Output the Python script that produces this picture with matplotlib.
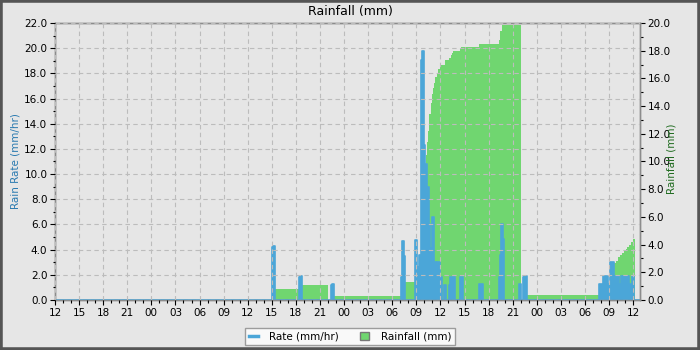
import numpy as np
import matplotlib
matplotlib.use('Agg')
import matplotlib.pyplot as plt
from matplotlib.lines import Line2D
from matplotlib.patches import Patch, Rectangle
from matplotlib.ticker import MultipleLocator, FuncFormatter

#----------- data (hours from day 1 12:00) -----------
# rainfall (mm), step series: value holds from time until next time
rain_t = [0.0, 27.40, 30.76, 34.00, 34.74, 43.34, 45.58, 46.20, 46.29, 46.41,
          46.54, 46.61, 46.79, 46.95, 47.11, 47.23, 47.36, 47.53, 47.70, 47.94,
          48.11, 48.57, 49.10, 49.28, 49.44, 49.60, 50.44, 50.56, 52.80, 55.29,
          55.42, 55.63, 57.99, 58.82, 69.12, 69.60, 69.89, 70.10, 70.30, 70.57,
          70.86, 71.07, 71.27, 71.52, 71.73, 71.94, 72.23, 72.85]
rain_v = [0.0, 0.8, 1.1, 0.0, 0.3, 1.3, 3.2, 10.5, 11.4, 12.2,
          12.8, 13.4, 14.2, 14.9, 15.3, 15.7, 16.1, 16.4, 16.7, 16.9,
          17.0, 17.3, 17.45, 17.7, 17.85, 18.0, 18.2, 18.3, 18.5, 18.8,
          19.4, 19.85, 0.0, 0.35, 1.0, 2.7, 2.85, 3.1, 3.25, 3.4,
          3.55, 3.7, 3.85, 4.0, 4.2, 4.4, 0.0, 0.0]

# rain rate (mm/hr)
rate_t = [0.0, 27.02, 27.19, 27.36, 30.39, 30.55, 30.76, 34.37, 34.53, 34.74,
          43.09, 43.21, 43.42, 43.59, 44.77, 44.89, 45.08, 45.24, 45.37, 45.58,
          45.74, 45.95, 46.08, 46.29, 46.57, 46.70, 46.99, 47.23, 47.50, 47.62,
          47.94, 48.22, 48.44, 48.69, 49.07, 49.23, 49.81, 50.44, 50.77, 52.80,
          53.26, 55.29, 55.42, 55.54, 55.75, 55.88, 57.78, 57.99, 58.27, 58.43,
          58.73, 67.75, 68.29, 68.83, 69.12, 69.61, 69.83, 70.03, 70.27, 70.45,
          70.70, 70.90, 71.11, 71.27, 71.48, 71.81, 72.14, 72.85]
rate_v = [0.0, 4.2, 4.3, 0.0, 1.8, 1.9, 0.0, 1.2, 1.3, 0.0,
          1.8, 4.7, 3.5, 0.0, 4.7, 4.8, 2.6, 0.8, 3.6, 19.1,
          19.8, 12.3, 10.8, 9.0, 6.0, 4.1, 6.6, 3.0, 2.4, 3.0,
          1.85, 0.0, 1.2, 0.0, 1.2, 1.85, 0.0, 1.85, 0.0, 1.25,
          0.0, 1.85, 3.6, 6.0, 4.85, 0.0, 1.25, 0.0, 1.85, 1.9,
          0.0, 1.27, 1.9, 1.27, 3.0, 1.9, 1.27, 1.9, 1.27, 1.9,
          1.27, 1.9, 1.27, 1.9, 1.27, 1.9, 0.0, 0.0]

start_hour = 12
c_rate = '#4ba6d8'
c_rain = '#70d670'
c_bg = '#e6e6e6'
c_spine = '#8c8c8c'

#==================================================================
def plot_chart():
    fig = plt.figure(figsize=(7, 3.5), dpi=100, facecolor=c_bg)
    ax1 = fig.add_axes([55/700, 50/350, 585/700, 277/350])
    ax2 = ax1.twinx()
    # rate on top of rainfall
    ax1.set_zorder(ax2.get_zorder() + 1)
    ax1.patch.set_visible(False)
    ax2.set_facecolor(c_bg)

    #-------- rainfall bars ----------
    ax2.fill_between(rain_t, rain_v, step='post', color=c_rain, lw=0)
    ax2.set_ylim(0, 20)
    ax2.yaxis.set_major_locator(MultipleLocator(2))
    ax2.yaxis.set_minor_locator(MultipleLocator(1))

    #-------- rate ----------
    ax1.fill_between(rate_t, rate_v, step='post', color=c_rate, lw=0)
    ax1.step(rate_t, rate_v, where='post', color=c_rate, lw=1.2)
    ax1.set_ylim(0, 22)
    ax1.set_xlim(0, 72.85)
    ax1.yaxis.set_major_locator(MultipleLocator(2))
    ax1.yaxis.set_minor_locator(MultipleLocator(1))
    ax1.xaxis.set_major_locator(MultipleLocator(3))
    ax1.xaxis.set_minor_locator(MultipleLocator(1))
    ax1.xaxis.set_major_formatter(
        FuncFormatter(lambda h, p: '%02d' % ((start_hour + int(round(h))) % 24)))
    fmt = FuncFormatter(lambda v, p: '%.1f' % v)
    ax1.yaxis.set_major_formatter(fmt)
    ax2.yaxis.set_major_formatter(fmt)

    ax1.grid(True, which='major', color='#bcbcbc', ls=(0, (4, 3)), lw=0.8)
    ax1.set_axisbelow(False)

    for ax in (ax1, ax2):
        for s in ax.spines.values():
            s.set_color(c_spine)
            s.set_linewidth(1.0)
        ax.tick_params(which='major', length=3.5, width=0.8, color='black',
                       labelsize=7.5, pad=2)
        ax.tick_params(which='minor', length=1.8, width=0.8, color='black')

    #-------- labels ----------
    # right label overlaps its tick labels, as in the original
    ax1.set_ylabel('Rain Rate (mm/hr)', color='#2a7ab0', fontsize=7.5)
    ax1.yaxis.set_label_coords(-34/585, 0.5)
    ax2.set_ylabel('Rainfall (mm)', color='#1f6b1f', fontsize=7.5, rotation=90)
    ax2.yaxis.set_label_coords(611/585, 0.51)
    fig.text(0.5, 1 - 12/350, 'Rainfall (mm)', ha='center', va='center',
             fontsize=9)

    #-------- legend ----------
    handles = [Line2D([0], [0], color=c_rate, lw=2.5),
               Patch(facecolor=c_rain, edgecolor='#777777', lw=1)]
    leg = fig.legend(handles, ['Rate (mm/hr)', 'Rainfall (mm)'],
                     loc='center', bbox_to_anchor=(350/700, 1 - 336.5/350),
                     ncol=2, fontsize=7.5, frameon=True, fancybox=False,
                     handlelength=0.9, handleheight=0.9, columnspacing=2.0,
                     handletextpad=1.1, borderpad=0.35, borderaxespad=0)
    leg.get_frame().set_edgecolor('#888888')
    leg.get_frame().set_facecolor('white')
    leg.get_frame().set_linewidth(1.0)

    #-------- outer frame ----------
    fig.patches.append(Rectangle((0, 0), 1, 1, transform=fig.transFigure,
                                 fill=False, edgecolor='#555555', lw=4))

    fig.savefig('out.png', dpi=100, facecolor=c_bg)

#==================================================================
if __name__ == "__main__":
    plot_chart()
